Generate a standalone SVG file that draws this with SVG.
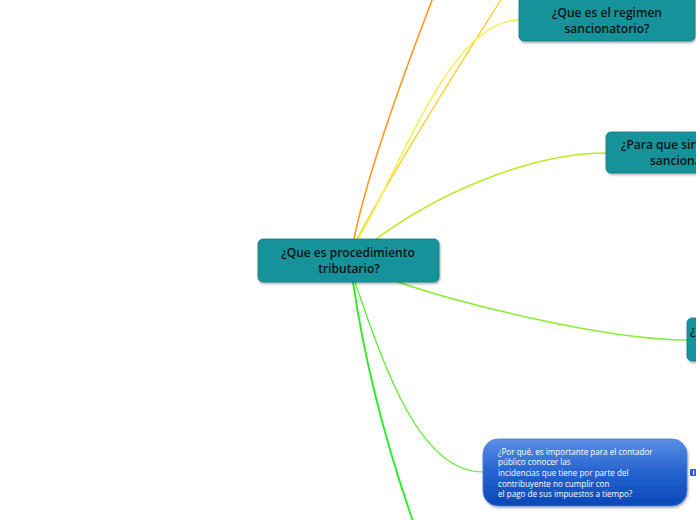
<svg xmlns="http://www.w3.org/2000/svg" width="696" height="520" viewBox="0 0 696 520">
<style>
.c{fill:none;stroke-linecap:round}
.teal{fill:#15929A;stroke:#0f7f86;stroke-width:0.8}
.t{font-family:"Open Sans","DejaVu Sans",sans-serif;font-size:12px;font-weight:600;fill:#111;text-anchor:middle}
.w{font-family:"Open Sans","DejaVu Sans",sans-serif;font-size:8.1px;fill:#fff}
</style>
<defs>
<filter id="sh" x="-10%" y="-10%" width="120%" height="140%">
<feDropShadow dx="0.8" dy="1.5" stdDeviation="1" flood-color="#000" flood-opacity="0.35"/>
</filter>
<linearGradient id="blue" x1="0" y1="0" x2="0" y2="1">
<stop offset="0" stop-color="#5a8ee6"/>
<stop offset="0.5" stop-color="#2563cf"/>
<stop offset="1" stop-color="#0a47b8"/>
</linearGradient>
</defs>
<rect width="696" height="520" fill="#fff"/>
<g id="connectors">
<path class="c" d="M354,239 Q370,160 436,-10" stroke="#FF9922" stroke-width="1.6"/>
<path class="c" d="M357,239 Q405,150 506,-8" stroke="#FFCC22" stroke-width="1.3"/>
<path class="c" d="M358,239 C400,170 450,20 519,20" stroke="#EEF23A" stroke-width="1.3"/>
<path class="c" d="M376,239 C450,185 540,153 606,153" stroke="#B5EE22" stroke-width="1.4"/>
<path class="c" d="M398,282 C450,300 600,340 688,340" stroke="#88EE33" stroke-width="1.4"/>
<path class="c" d="M355,282 C385,370 420,472 483,472" stroke="#55EE22" stroke-width="1.2"/>
<path class="c" d="M353,282 Q370,400 416,530" stroke="#22EE22" stroke-width="1.8"/>
</g>
<g id="n-central">
<rect class="teal" x="258" y="239" width="181" height="43" rx="5" filter="url(#sh)"/>
<text class="t" x="348" y="257">¿Que es procedimiento</text>
<text class="t" x="349" y="273">tributario?</text>
</g>
<g id="n-regimen">
<rect class="teal" x="519" y="-6" width="176" height="47" rx="5" filter="url(#sh)"/>
<text class="t" x="607" y="17">¿Que es el regimen</text>
<text class="t" x="607" y="33">sancionatorio?</text>
</g>
<g id="n-para">
<rect class="teal" x="606" y="132" width="180" height="41" rx="5" filter="url(#sh)"/>
<text class="t" x="621" y="149" style="text-anchor:start">¿Para que sirve el regimen</text>
<text class="t" x="650" y="165" style="text-anchor:start">sancionatorio?</text>
</g>
<g id="n-four">
<rect class="teal" x="687" y="318" width="60" height="43" rx="5" filter="url(#sh)"/>
<text class="t" x="690" y="335" style="text-anchor:start">¿</text>
</g>
<g id="n-porque">
<rect x="483" y="439" width="204" height="67" rx="15" fill="url(#blue)" stroke="#4a7fde" stroke-width="0.8" filter="url(#sh)"/>
<text class="w" x="498" y="454.5">¿Por qué, es importante para el contador</text>
<text class="w" x="498" y="465.2">público conocer las</text>
<text class="w" x="498" y="475.9">incidencias que tiene por parte del</text>
<text class="w" x="498" y="486.6">contribuyente no cumplir con</text>
<text class="w" x="498" y="497.3">el pago de sus impuestos a tiempo?</text>
<rect x="690" y="469" width="8" height="7" rx="1" fill="#2a63c8"/>
<rect x="693" y="470.5" width="1.2" height="4" fill="#fff"/>
</g>
</svg>
